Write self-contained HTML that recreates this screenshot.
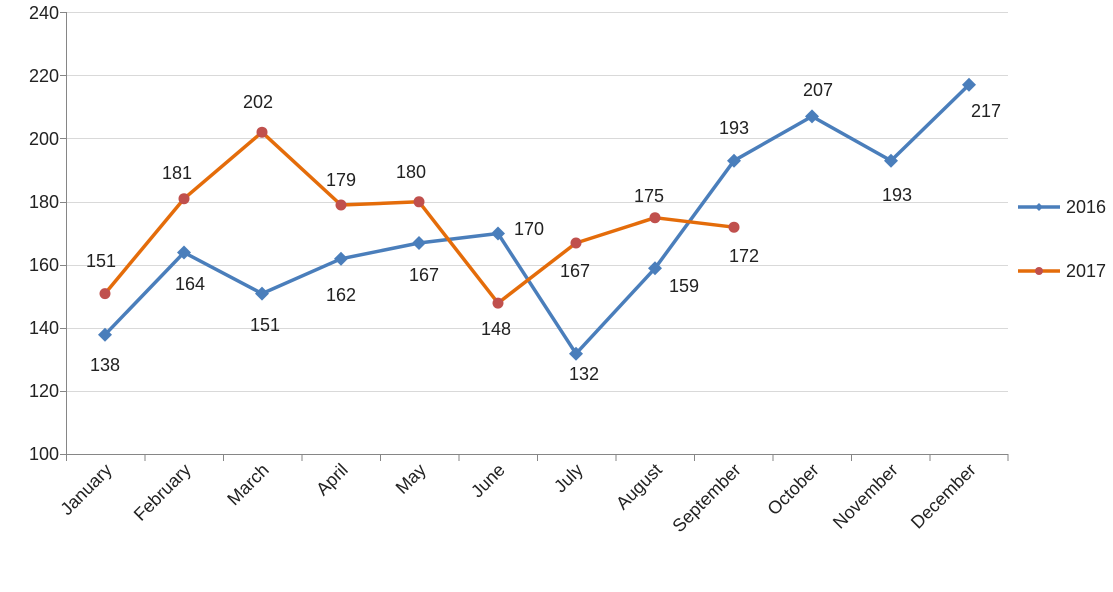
<!DOCTYPE html>
<html><head><meta charset="utf-8"><style>body{margin:0;background:#fff}svg{display:block}text{font-family:"Liberation Sans",sans-serif;font-size:18px;fill:#222}</style></head><body>
<svg width="1113" height="592" viewBox="0 0 1113 592">
<g stroke="#d9d9d9" stroke-width="1">
<line x1="66" y1="12.5" x2="1008" y2="12.5"/><line x1="66" y1="75.5" x2="1008" y2="75.5"/><line x1="66" y1="138.5" x2="1008" y2="138.5"/><line x1="66" y1="202.5" x2="1008" y2="202.5"/><line x1="66" y1="265.5" x2="1008" y2="265.5"/><line x1="66" y1="328.5" x2="1008" y2="328.5"/><line x1="66" y1="391.5" x2="1008" y2="391.5"/>
</g>
<g stroke="#868686" stroke-width="1">
<line x1="66.5" y1="12" x2="66.5" y2="455"/><line x1="60" y1="454.5" x2="1008" y2="454.5"/>
<line x1="60" y1="12.5" x2="66" y2="12.5"/><line x1="60" y1="75.5" x2="66" y2="75.5"/><line x1="60" y1="138.5" x2="66" y2="138.5"/><line x1="60" y1="202.5" x2="66" y2="202.5"/><line x1="60" y1="265.5" x2="66" y2="265.5"/><line x1="60" y1="328.5" x2="66" y2="328.5"/><line x1="60" y1="391.5" x2="66" y2="391.5"/>
<path d="M66.5 454v7M145 454v7M223.5 454v7M302 454v7M380.5 454v7M459 454v7M537.5 454v7M616 454v7M694.5 454v7M773 454v7M851.5 454v7M930 454v7M1008 454v7"/>
</g>
<g text-anchor="end" dominant-baseline="central">
<text x="59" y="13">240</text><text x="59" y="76">220</text><text x="59" y="139">200</text><text x="59" y="202">180</text><text x="59" y="265">160</text><text x="59" y="328">140</text><text x="59" y="391">120</text><text x="59" y="454">100</text>
</g>
<g text-anchor="end">
<text transform="translate(113,471) rotate(-45)">January</text>
<text transform="translate(192,471) rotate(-45)">February</text>
<text transform="translate(270,471) rotate(-45)">March</text>
<text transform="translate(349,471) rotate(-45)">April</text>
<text transform="translate(427,471) rotate(-45)">May</text>
<text transform="translate(506,471) rotate(-45)">June</text>
<text transform="translate(584,471) rotate(-45)">July</text>
<text transform="translate(663,471) rotate(-45)">August</text>
<text transform="translate(742,471) rotate(-45)">September</text>
<text transform="translate(820,471) rotate(-45)">October</text>
<text transform="translate(899,471) rotate(-45)">November</text>
<text transform="translate(977,471) rotate(-45)">December</text>
</g>
<polyline fill="none" stroke="#4a7ebb" stroke-width="3.5" stroke-linejoin="round" points="105,334.7 184,252.5 262,293.6 341,258.8 419,243 498,233.5 576,353.7 655,268.3 734,160.7 812,116.4 891,160.7 969,84.8"/>
<polyline fill="none" stroke="#e46c0a" stroke-width="3.5" stroke-linejoin="round" points="105,293.6 184,198.7 262,132.2 341,205 419,201.8 498,303.1 576,243 655,217.7 734,227.2"/>
<g fill="#4a7ebb">
<path d="M105 327.7l7 7-7 7-7-7z"/><path d="M184 245.5l7 7-7 7-7-7z"/><path d="M262 286.6l7 7-7 7-7-7z"/><path d="M341 251.8l7 7-7 7-7-7z"/><path d="M419 236l7 7-7 7-7-7z"/><path d="M498 226.5l7 7-7 7-7-7z"/><path d="M576 346.7l7 7-7 7-7-7z"/><path d="M655 261.3l7 7-7 7-7-7z"/><path d="M734 153.7l7 7-7 7-7-7z"/><path d="M812 109.4l7 7-7 7-7-7z"/><path d="M891 153.7l7 7-7 7-7-7z"/><path d="M969 77.8l7 7-7 7-7-7z"/>
</g>
<g fill="#c0504d">
<circle cx="105" cy="293.6" r="5.5"/><circle cx="184" cy="198.7" r="5.5"/><circle cx="262" cy="132.2" r="5.5"/><circle cx="341" cy="205" r="5.5"/><circle cx="419" cy="201.8" r="5.5"/><circle cx="498" cy="303.1" r="5.5"/><circle cx="576" cy="243" r="5.5"/><circle cx="655" cy="217.7" r="5.5"/><circle cx="734" cy="227.2" r="5.5"/>
</g>
<g text-anchor="middle" dominant-baseline="central">
<text x="105" y="365">138</text><text x="190" y="284">164</text><text x="265" y="325">151</text><text x="341" y="295">162</text><text x="424" y="275">167</text><text x="529" y="229">170</text><text x="584" y="374">132</text><text x="684" y="286">159</text><text x="734" y="128">193</text><text x="818" y="90">207</text><text x="897" y="195">193</text><text x="986" y="111">217</text>
<text x="101" y="261">151</text><text x="177" y="173">181</text><text x="258" y="102">202</text><text x="341" y="180">179</text><text x="411" y="172">180</text><text x="496" y="329">148</text><text x="575" y="271">167</text><text x="649" y="196">175</text><text x="744" y="256">172</text>
</g>
<line x1="1018" y1="207" x2="1060" y2="207" stroke="#4a7ebb" stroke-width="3.5"/><path d="M1039 203l4 4-4 4-4-4z" fill="#4a7ebb"/>
<line x1="1018" y1="271" x2="1060" y2="271" stroke="#e46c0a" stroke-width="3.5"/><circle cx="1039" cy="271" r="4" fill="#c0504d"/>
<g dominant-baseline="central" style="font-size:14px"><text x="1066" y="207">2016</text><text x="1066" y="271">2017</text></g>
</svg>
</body></html>
